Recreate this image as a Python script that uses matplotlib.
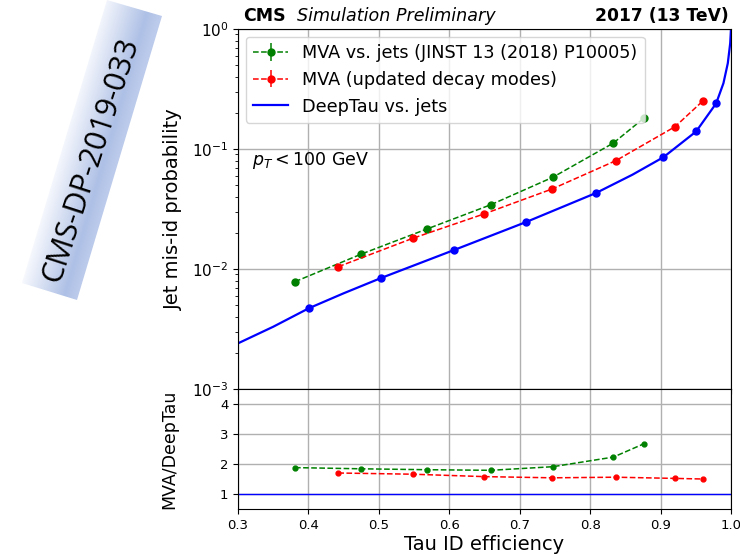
import numpy as np
import matplotlib
matplotlib.use("Agg")
import matplotlib.pyplot as plt
from matplotlib.colors import LinearSegmentedColormap
from matplotlib.patches import Polygon

# working points
mva_old_eff = [0.381, 0.475, 0.568, 0.659, 0.747, 0.833, 0.876]
mva_old_misid = [0.00784, 0.0133, 0.0215, 0.0343, 0.0581, 0.112, 0.180]
mva_new_eff = [0.4425, 0.548, 0.649, 0.746, 0.8365, 0.9207, 0.960]
mva_new_misid = [0.01045, 0.0180, 0.0287, 0.0464, 0.0799, 0.1535, 0.251]
deeptau_eff = [0.4004, 0.503, 0.607, 0.709, 0.8085, 0.904, 0.9506, 0.979]
deeptau_misid = [0.0047, 0.0084, 0.0144, 0.0246, 0.0430, 0.0853, 0.140, 0.240]

# DeepTau ROC curve
deeptau_curve_eff = [0.30, 0.35, 0.4004, 0.45, 0.503, 0.607, 0.709, 0.8085,
                     0.86, 0.904, 0.9506, 0.979, 0.9893, 0.9955, 0.9989, 1.0]
deeptau_curve_misid = [0.0024, 0.0033, 0.0047, 0.00627, 0.0084, 0.0144, 0.0246, 0.0430,
                       0.061, 0.0853, 0.140, 0.240, 0.353, 0.518, 0.76, 1.0]

# ratio panel
ratio_old = [1.88, 1.84, 1.81, 1.79, 1.91, 2.23, 2.67]
ratio_new = [1.70, 1.66, 1.58, 1.54, 1.56, 1.52, 1.50]

fig = plt.figure(figsize=(7.4, 5.56), dpi=100)
ax = fig.add_axes([0.3216, 0.3004, 0.6662, 0.6475])
axr = fig.add_axes([0.3216, 0.0845, 0.6662, 0.2159], sharex=ax)

zero_old = [0] * len(mva_old_eff)
zero_new = [0] * len(mva_new_eff)
h_old = ax.errorbar(mva_old_eff, mva_old_misid, yerr=zero_old, fmt='o--', color='green',
                    ms=5, lw=1.1, label='MVA vs. jets (JINST 13 (2018) P10005)')
h_new = ax.errorbar(mva_new_eff, mva_new_misid, yerr=zero_new, fmt='o--', color='red',
                    ms=5, lw=1.1, label='MVA (updated decay modes)')
h_dt, = ax.plot(deeptau_curve_eff, deeptau_curve_misid, '-', color='blue', lw=1.6,
                label='DeepTau vs. jets')
ax.plot(deeptau_eff, deeptau_misid, 'o', color='blue', ms=5)

ax.set_yscale('log')
ax.set_ylim(1e-3, 1)
ax.set_xlim(0.3, 1.0)
ax.grid(True, color='#b0b0b0', lw=1)
ax.tick_params(labelbottom=False, labelsize=11)
ax.set_ylabel('Jet mis-id probability', fontsize=14)
ax.yaxis.set_label_coords(-0.111, 0.5)
ax.legend(handles=[h_old, h_new, h_dt], loc='upper left', fontsize=12.7,
          handlelength=2.0, borderaxespad=0.45)
ax.text(0.028, 0.636, r'$p_T < 100$ GeV', transform=ax.transAxes,
        fontsize=12.5, va='center', ha='left')
ax.text(0.01, 1.012, 'CMS', transform=ax.transAxes, fontsize=12.5,
        fontweight='bold', ha='left', va='bottom')
ax.text(0.12, 1.012, 'Simulation Preliminary', transform=ax.transAxes,
        fontsize=12.6, style='italic', ha='left', va='bottom')
ax.text(0.995, 1.012, '2017 (13 TeV)', transform=ax.transAxes, fontsize=12.3,
        fontweight='bold', ha='right', va='bottom')

axr.plot(mva_old_eff, ratio_old, 'o--', color='green', ms=3.5, lw=1.1)
axr.plot(mva_new_eff, ratio_new, 'o--', color='red', ms=3.5, lw=1.1)
axr.axhline(1, color='blue', lw=1)
axr.set_ylim(0.5, 4.5)
axr.set_yticks([1, 2, 3, 4])
axr.set_xticks([0.3, 0.4, 0.5, 0.6, 0.7, 0.8, 0.9, 1.0])
axr.grid(True, color='#b0b0b0', lw=1)
axr.tick_params(labelsize=9.5)
axr.set_ylabel('MVA/DeepTau', fontsize=12.5)
axr.yaxis.set_label_coords(-0.121, 0.5)
axr.set_xlabel('Tau ID efficiency', fontsize=14, labelpad=2)

# tilted "CMS-DP" stamp with a blue gradient
ov = fig.add_axes([0, 0, 1, 1], zorder=-1)
ov.set_xlim(0, 740)
ov.set_ylim(556, 0)
ov.axis('off')
corners = [(107, 0), (162, 16), (77, 300), (22, 283)]
ux, uy = np.array([55.0, 16.0]) / np.hypot(55, 16)
gx, gy = np.meshgrid(np.linspace(0, 170, 200), np.linspace(0, 310, 300))
grad = (gx - 22) * ux + (gy - 283) * uy
cmap = LinearSegmentedColormap.from_list(
    'stamp', [(0, '#f6f8fd'), (0.4, '#d2dcf1'), (0.78, '#aec0e6'), (1, '#bccbeb')])
im = ov.imshow(grad, extent=(0, 170, 310, 0), cmap=cmap, aspect='auto',
               vmin=0, vmax=57)
poly = Polygon(corners, closed=True, transform=ov.transData, facecolor='none',
               edgecolor='none')
ov.add_patch(poly)
im.set_clip_path(poly)
ov.text(91, 160, 'CMS-DP-2019-033', rotation=72, fontsize=22, family='Open Sans',
        ha='center', va='center', rotation_mode='anchor')

fig.savefig('out.png', dpi=100)
